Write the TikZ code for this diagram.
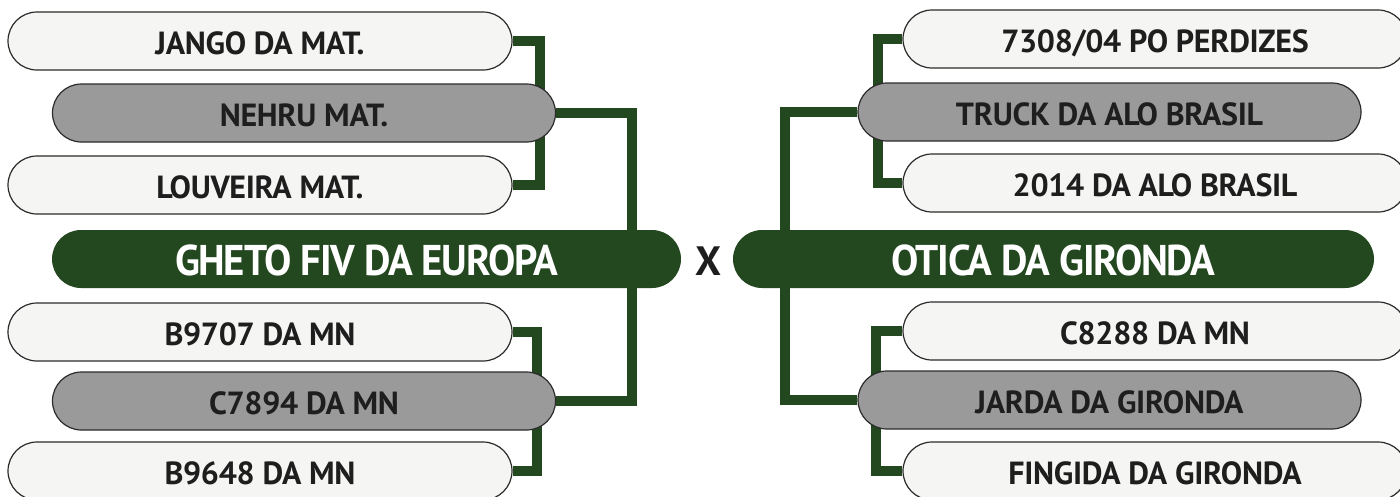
\documentclass[tikz,border=0pt]{standalone}
\usepackage{fontspec}
\setmainfont{PT Sans}
\newfontfamily\labelfont{PT Sans}[LetterSpace=-1]
\newfontfamily\headfont{PT Sans}[LetterSpace=-3,FakeStretch=0.95]
\usetikzlibrary{backgrounds,calc}
\definecolor{bgreen}{HTML}{23471F}
\definecolor{lightfill}{HTML}{F5F5F3}
\definecolor{grayfill}{HTML}{9A9A9A}
\definecolor{boxline}{HTML}{2B2B2B}
\definecolor{txt}{HTML}{1E1E1E}
\begin{document}
\begin{tikzpicture}[x=1pt,y=-1pt,
  pill/.style={draw=boxline,line width=1.2pt,rounded corners=29pt,minimum height=58pt,inner sep=0pt,text=txt,
    font=\labelfont\bfseries\fontsize{32}{32}\selectfont,text height=26pt,text depth=0pt},
  lightpill/.style={pill,fill=lightfill,minimum width=504pt},
  graypill/.style={pill,fill=grayfill,minimum width=503pt},
  finalpill/.style={rounded corners=29pt,minimum height=58pt,inner sep=0pt,fill=bgreen,text=white,
    font=\headfont\bfseries\fontsize{43}{43}\selectfont,text height=32pt,text depth=0pt},
  link/.style={draw=bgreen,line width=10pt}]
\useasboundingbox (0,0) rectangle (1400,496);
% left side
\node[lightpill] (jango) at (260,41) {JANGO DA MAT.};
\node[graypill]  (nehru) at (304,113) {NEHRU MAT.};
\node[lightpill] (louveira) at (260,185) {LOUVEIRA MAT.};
\node[finalpill,minimum width=629pt] (gheto) at (366.5,259) {GHETO FIV DA EUROPA};
\node[lightpill] (b9707) at (260,332) {B9707 DA MN};
\node[graypill]  (c7894) at (304,401) {C7894 DA MN};
\node[lightpill] (b9648) at (260,471) {B9648 DA MN};
% centre
\node[font=\labelfont\bfseries\fontsize{41}{41}\selectfont,text=txt,inner sep=0pt,text height=31pt,text depth=0pt] (vs) at (708,260) {X};
% right side
\node[lightpill] (p7308) at (1155,39) {7308/04 PO PERDIZES};
\node[graypill]  (truck) at (1109.5,112) {TRUCK DA ALO BRASIL};
\node[lightpill] (p2014) at (1155,183) {2014 DA ALO BRASIL};
\node[finalpill,minimum width=641pt] (otica) at (1053.5,259) {OTICA DA GIRONDA};
\node[lightpill] (c8288) at (1155,331) {C8288 DA MN};
\node[graypill]  (jarda) at (1109.5,400) {JARDA DA GIRONDA};
\node[lightpill] (fingida) at (1155,471) {FINGIDA DA GIRONDA};
\begin{scope}[on background layer]
  \draw[link] (jango.east) -- ++(27,0) |- (louveira.east);
  \draw[link] (nehru.east) -| ([xshift=-49pt]gheto.east);
  \draw[link] (b9707.east) -- ++(24,0) |- (b9648.east);
  \draw[link] (c7894.east) -| ([xshift=-49pt]gheto.east);
  \draw[link] (p7308.west) -- ++(-24,0) |- (p2014.west);
  \draw[link] (truck.west) -| ([xshift=52pt]otica.west);
  \draw[link] (c8288.west) -- ++(-26,0) |- (fingida.west);
  \draw[link] (jarda.west) -| ([xshift=52pt]otica.west);
\end{scope}
\end{tikzpicture}
\end{document}
